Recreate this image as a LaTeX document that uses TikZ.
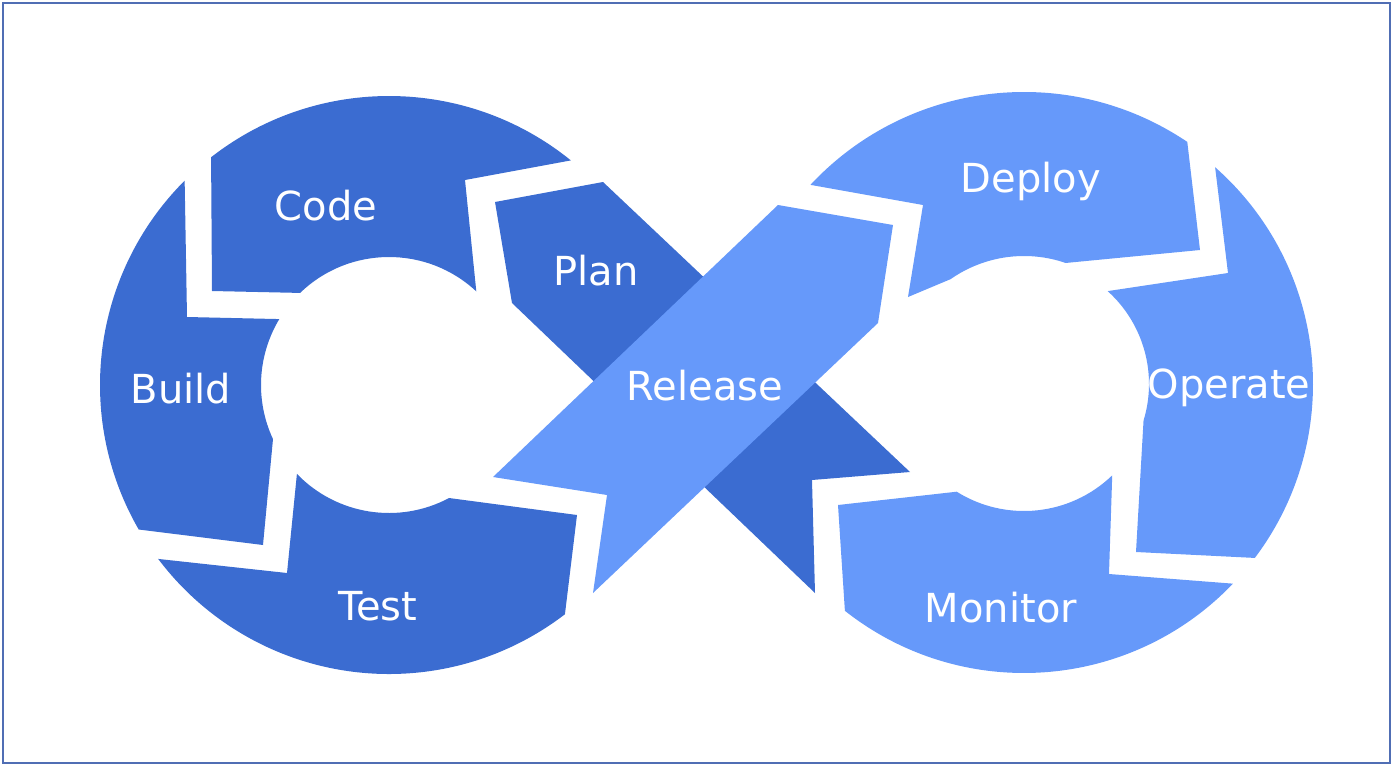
\documentclass[tikz,border=0pt]{standalone}
\usepackage{fontspec}
\setsansfont{DejaVu Sans}
\usetikzlibrary{calc}

\definecolor{darkseg}{RGB}{59,108,209}
\definecolor{lightseg}{RGB}{102,153,250}
\definecolor{framecol}{RGB}{80,110,180}

\begin{document}
\begin{tikzpicture}[x=0.5pt,y=-0.5pt,
    lbl/.style={text=white,font=\sffamily\fontsize{20}{24}\selectfont,anchor=base,inner sep=0pt}]
\useasboundingbox (0,0) rectangle (1393,766);
\draw[framecol,line width=1pt] (3,3) rectangle (1390,763);

\coordinate (L) at (389,385);
\coordinate (R) at (1024,384);

% left loop
\fill[darkseg] ($(L)+(-128:289)$) arc[start angle=-128,end angle=-51,radius=289] -- (465,180)
    -- ($(L)+(-47:128)$) arc[start angle=-47,end angle=-134,radius=128] -- (212,291) -- cycle;
\fill[darkseg] ($(L)+(225:289)$) arc[start angle=225,end angle=150,radius=289] -- (263,545)
    -- ($(L)+(155:128)$) arc[start angle=155,end angle=211,radius=128] -- (187,317) -- cycle;
\fill[darkseg] ($(L)+(143:289)$) arc[start angle=143,end angle=52.5,radius=289] -- (577,515)
    -- ($(L)+(62:128)$) arc[start angle=62,end angle=136,radius=128] -- (287,573) -- cycle;
\fill[darkseg] (495,202) -- (603,182) -- (910,472) -- (812,480) -- (815,593) -- (512,303) -- cycle;

% right loop
\fill[lightseg] (493,477) -- (778,205) -- (893,225) -- (878,323) -- (593,593) -- (607,495) -- cycle;
\fill[lightseg] ($(R)+(-137:292)$) arc[start angle=-137,end angle=-56,radius=292] -- (1200,250)
    -- ($(R)+(-71:128)$) arc[start angle=-71,end angle=-125,radius=128] -- (908,297) -- (923,205) -- cycle;
\fill[lightseg] ($(R)+(-48.6:289)$) arc[start angle=-48.6,end angle=37,radius=289] -- (1136,552)
    -- ($(R)+(17:125)$) arc[start angle=17,end angle=-48,radius=125] -- (1228,273) -- cycle;
\fill[lightseg] ($(R)+(43.7:289)$) arc[start angle=43.7,end angle=128.3,radius=289] -- (838,505)
    -- ($(R)+(122:127)$) arc[start angle=122,end angle=46,radius=127] -- (1109,574) -- cycle;

\foreach \t/\x/\y in {Code/326/220,Plan/596/285,Build/181/403,Test/378/620,
    Release/705/400,Deploy/1031/192,Operate/1229/398,Monitor/1001/622}
  \node[lbl] (\t) at (\x,\y) {\t};
\end{tikzpicture}
\end{document}
